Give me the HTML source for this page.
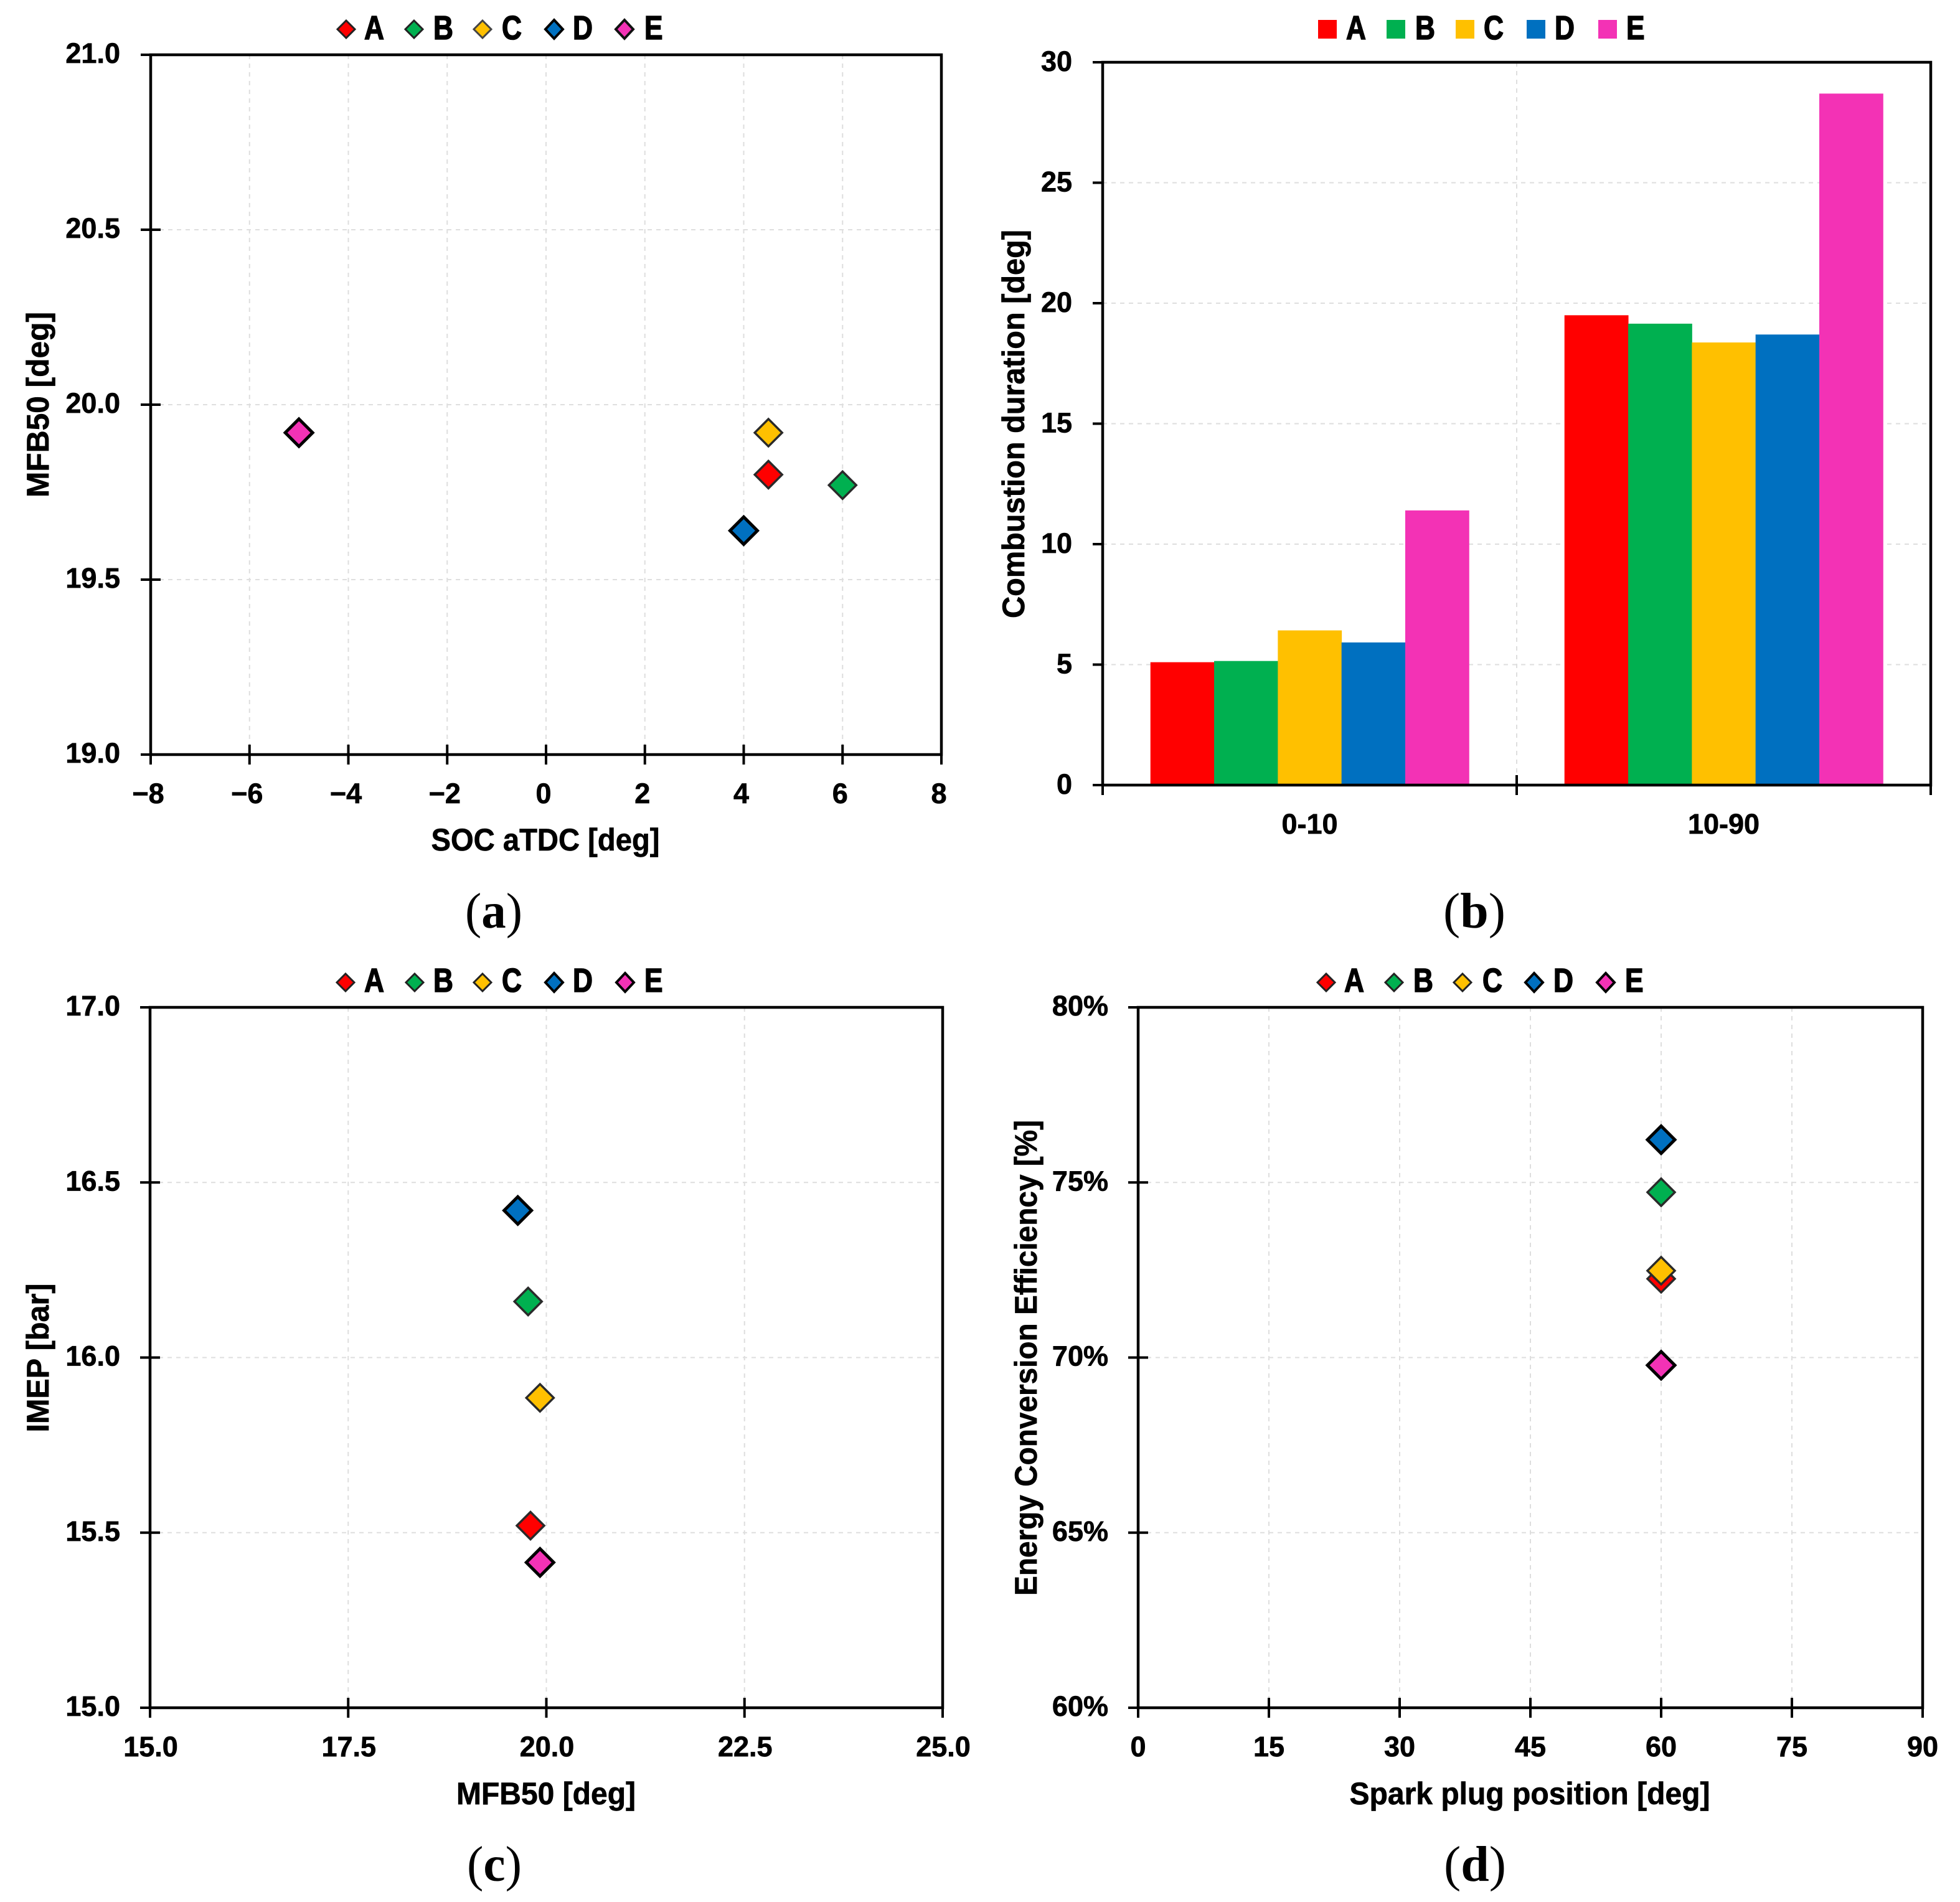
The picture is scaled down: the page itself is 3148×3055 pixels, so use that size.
<!DOCTYPE html>
<html lang="en">
<head>
<meta charset="utf-8">
<title>Combustion comparison charts</title>
<style>
html,body{margin:0;padding:0;background:#fff;width:3148px;height:3055px;overflow:hidden}
svg{display:block}
text{font-family:"Liberation Sans",sans-serif;font-weight:700;fill:#000;stroke:#000;stroke-width:.7px}
.cap{font-family:"Liberation Serif",serif;font-size:80px;text-anchor:middle;stroke-width:0}
.cap tspan{font-weight:400}
.ttl{font-size:50px;text-anchor:middle}
.leg{font-size:54px;stroke-width:1.6px}
</style>
</head>
<body>
<svg id="figure" xmlns="http://www.w3.org/2000/svg" width="3148" height="3055" viewBox="0 0 3148 3055">
<rect x="0" y="0" width="3148" height="3055" fill="#fff"/>
<g id="plots"></g>

<g>
<polygon points="556,33 570,47 556,61 542,47" fill="#ff0000" stroke="#222" stroke-width="3"/>
<text class="leg" transform="translate(585,63) scale(.82,1)">A</text>
<polygon points="665,33 679,47 665,61 651,47" fill="#00b050" stroke="#222" stroke-width="3"/>
<text class="leg" transform="translate(696,63) scale(.82,1)">B</text>
<polygon points="775,33 789,47 775,61 761,47" fill="#ffc000" stroke="#444" stroke-width="3"/>
<text class="leg" transform="translate(806,63) scale(.82,1)">C</text>
<polygon points="890,32 904,47 890,62 876,47" fill="#0070c0" stroke="#000" stroke-width="4"/>
<text class="leg" transform="translate(920,63) scale(.82,1)">D</text>
<polygon points="1003,32 1017,47 1003,62 989,47" fill="#f332b5" stroke="#111" stroke-width="4"/>
<text class="leg" transform="translate(1035,63) scale(.82,1)">E</text>
</g>

<g>
<rect x="2117" y="32" width="30" height="30" fill="#ff0000"/>
<text class="leg" transform="translate(2162,63) scale(.82,1)">A</text>
<rect x="2227" y="32" width="30" height="30" fill="#00b050"/>
<text class="leg" transform="translate(2273,63) scale(.82,1)">B</text>
<rect x="2338" y="32" width="30" height="30" fill="#ffc000"/>
<text class="leg" transform="translate(2383,63) scale(.82,1)">C</text>
<rect x="2452" y="32" width="30" height="30" fill="#0070c0"/>
<text class="leg" transform="translate(2497,63) scale(.82,1)">D</text>
<rect x="2567" y="32" width="30" height="30" fill="#f332b5"/>
<text class="leg" transform="translate(2612,63) scale(.82,1)">E</text>
</g>

<g>
<polygon points="555,1564 569,1578 555,1592 541,1578" fill="#ff0000" stroke="#222" stroke-width="3"/>
<text class="leg" transform="translate(585,1593) scale(.82,1)">A</text>
<polygon points="666,1564 680,1578 666,1592 652,1578" fill="#00b050" stroke="#222" stroke-width="3"/>
<text class="leg" transform="translate(696,1593) scale(.82,1)">B</text>
<polygon points="775,1564 789,1578 775,1592 761,1578" fill="#ffc000" stroke="#222" stroke-width="3"/>
<text class="leg" transform="translate(806,1593) scale(.82,1)">C</text>
<polygon points="890,1563 904,1578 890,1593 876,1578" fill="#0070c0" stroke="#000" stroke-width="4"/>
<text class="leg" transform="translate(920,1593) scale(.82,1)">D</text>
<polygon points="1004,1563 1018,1578 1004,1593 990,1578" fill="#f332b5" stroke="#000" stroke-width="4"/>
<text class="leg" transform="translate(1035,1593) scale(.82,1)">E</text>
</g>

<g>
<polygon points="2130,1564 2144,1578 2130,1592 2116,1578" fill="#ff0000" stroke="#222" stroke-width="3"/>
<text class="leg" transform="translate(2159,1593) scale(.82,1)">A</text>
<polygon points="2239,1564 2253,1578 2239,1592 2225,1578" fill="#00b050" stroke="#222" stroke-width="3"/>
<text class="leg" transform="translate(2270,1593) scale(.82,1)">B</text>
<polygon points="2349,1564 2363,1578 2349,1592 2335,1578" fill="#ffc000" stroke="#222" stroke-width="3"/>
<text class="leg" transform="translate(2381,1593) scale(.82,1)">C</text>
<polygon points="2464,1563 2478,1578 2464,1593 2450,1578" fill="#0070c0" stroke="#000" stroke-width="4"/>
<text class="leg" transform="translate(2495,1593) scale(.82,1)">D</text>
<polygon points="2579,1563 2593,1578 2579,1593 2565,1578" fill="#f332b5" stroke="#000" stroke-width="4"/>
<text class="leg" transform="translate(2610,1593) scale(.82,1)">E</text>
</g>

<text class="ttl" x="876" y="1366" textLength="367" lengthAdjust="spacingAndGlyphs">SOC aTDC [deg]</text>
<text class="ttl" transform="translate(78,650) rotate(-90)" textLength="298" lengthAdjust="spacingAndGlyphs">MFB50 [deg]</text>
<text class="ttl" transform="translate(1645,681) rotate(-90)" textLength="624" lengthAdjust="spacingAndGlyphs">Combustion duration [deg]</text>
<text class="ttl" x="877" y="2898" textLength="288" lengthAdjust="spacingAndGlyphs">MFB50 [deg]</text>
<text class="ttl" transform="translate(78,2181) rotate(-90)" textLength="239" lengthAdjust="spacingAndGlyphs">IMEP [bar]</text>
<text class="ttl" x="2457" y="2898" textLength="579" lengthAdjust="spacingAndGlyphs">Spark plug position [deg]</text>
<text class="ttl" transform="translate(1665,2181) rotate(-90)" textLength="764" lengthAdjust="spacingAndGlyphs">Energy Conversion Efficiency [%]</text>

<text class="cap" x="793" y="1490" textLength="92" lengthAdjust="spacingAndGlyphs"><tspan>(</tspan>a<tspan>)</tspan></text>
<text class="cap" x="2368" y="1490" textLength="100" lengthAdjust="spacingAndGlyphs"><tspan>(</tspan>b<tspan>)</tspan></text>
<text class="cap" x="794" y="3021" textLength="88" lengthAdjust="spacingAndGlyphs"><tspan>(</tspan>c<tspan>)</tspan></text>
<text class="cap" x="2369" y="3021" textLength="100" lengthAdjust="spacingAndGlyphs"><tspan>(</tspan>d<tspan>)</tspan></text>
</svg>

<script>
// ---------- chart data ----------
const seriesNames = ['A', 'B', 'C', 'D', 'E'];

const socValues = [4.5, 6, 4.5, 4, -5];
const mfb50Values = [19.8, 19.77, 19.92, 19.64, 19.92];
const imepValues = [15.52, 16.16, 15.885, 16.42, 15.415];
const sparkValues = [60, 60, 60, 60, 60];
const efficiencyValues = [72.25, 74.72, 72.48, 76.22, 69.78];

const durationCategories = ['0-10', '10-90'];
const durationA = [5.1, 19.5];
const durationB = [5.15, 19.15];
const durationC = [6.42, 18.37];
const durationD = [5.92, 18.7];
const durationE = [11.4, 28.7];

const socTicks = [-8, -6, -4, -2, 0, 2, 4, 6, 8];
const socTickLabels = ['\u22128', '\u22126', '\u22124', '\u22122', '0', '2', '4', '6', '8'];
const mfbYTicks = [19, 19.5, 20, 20.5, 21];
const mfbYTickLabels = ['19.0', '19.5', '20.0', '20.5', '21.0'];
const durationTicks = [0, 5, 10, 15, 20, 25, 30];
const durationTickLabels = ['0', '5', '10', '15', '20', '25', '30'];
const mfbXTicks = [15, 17.5, 20, 22.5, 25];
const mfbXTickLabels = ['15.0', '17.5', '20.0', '22.5', '25.0'];
const imepTicks = [15, 15.5, 16, 16.5, 17];
const imepTickLabels = ['15.0', '15.5', '16.0', '16.5', '17.0'];
const sparkTicks = [0, 15, 30, 45, 60, 75, 90];
const sparkTickLabels = ['0', '15', '30', '45', '60', '75', '90'];
const efficiencyTicks = [60, 65, 70, 75, 80];
const efficiencyTickLabels = ['60%', '65%', '70%', '75%', '80%'];

// ---------- styling ----------
const seriesColors = ['#ff0000', '#00b050', '#ffc000', '#0070c0', '#f332b5'];
const SVGNS = 'http://www.w3.org/2000/svg';
const root = document.getElementById('plots');

function mk(tag, attrs, parent) {
  const el = document.createElementNS(SVGNS, tag);
  for (const k in attrs) el.setAttribute(k, attrs[k]);
  parent.appendChild(el);
  return el;
}

function linear(d0, d1, r0, r1) {
  return function (v) { return r0 + (v - d0) * (r1 - r0) / (d1 - d0); };
}

function gridLine(parent, x1, y1, x2, y2) {
  const el = mk('line', { x1: x1, y1: y1, x2: x2, y2: y2, stroke: '#dedede', 'stroke-width': 2, 'stroke-dasharray': '7 7' }, parent);
  
  
}

function tickLine(parent, x1, y1, x2, y2) {
  const el = mk('line', { x1: x1, y1: y1, x2: x2, y2: y2, stroke: '#000', 'stroke-width': 4 }, parent);
  
  
}

function tickLabel(parent, x, y, anchor, str) {
  const el = mk('text', { x: x, y: y, 'text-anchor': anchor, 'font-size': 45 }, parent);
  el.textContent = str;
  
  
}

function frame(parent, box) {
  const el = mk('rect', { x: box.l, y: box.t, width: box.r - box.l, height: box.b - box.t, fill: 'none', stroke: '#000', 'stroke-width': 4.5 }, parent);
  
  
}

function scatterPanel(name, box, xs, ys, xTicks, xLabels, yTicks, yLabels, labelRight, labelDx) {
  const g = mk('g', {}, root);
  
  
  const sx = linear(xTicks[0], xTicks[xTicks.length - 1], box.l, box.r);
  const sy = linear(yTicks[0], yTicks[yTicks.length - 1], box.b, box.t);
  xTicks.slice(1, -1).forEach(function (t) { gridLine(g, sx(t), box.t, sx(t), box.b); });
  yTicks.slice(1, -1).forEach(function (t) { gridLine(g, box.l, sy(t), box.r, sy(t)); });
  frame(g, box);
  xTicks.forEach(function (t, i) {
    tickLine(g, sx(t), box.b - 16, sx(t), box.b + 16);
    tickLabel(g, sx(t) + labelDx, box.b + 78, 'middle', xLabels[i]);
  });
  yTicks.forEach(function (t, i) {
    tickLine(g, box.l - 16, sy(t), box.l + 16, sy(t));
    tickLabel(g, labelRight, sy(t) + 13, 'end', yLabels[i]);
  });
  const half = 22;
  seriesNames.forEach(function (s, i) {
    const cx = sx(xs[i]);
    const cy = sy(ys[i]);
    const heavy = i >= 3;
    const pts = [cx, cy - half, cx + half, cy, cx, cy + half, cx - half, cy].join(' ');
    const m = mk('polygon', { points: pts, fill: seriesColors[i], stroke: heavy ? '#000' : '#2a2a2a', 'stroke-width': heavy ? 5 : 3.5 }, g);
    
    
  });
}

function barPanel(name, box, categories, seriesValues, yTicks, yLabels, labelRight) {
  const g = mk('g', {}, root);
  
  
  const sy = linear(yTicks[0], yTicks[yTicks.length - 1], box.b, box.t);
  const catW = (box.r - box.l) / categories.length;
  const barW = catW / (seriesValues.length + 1.5);
  yTicks.slice(1, -1).forEach(function (t) { gridLine(g, box.l, sy(t), box.r, sy(t)); });
  for (let c = 1; c < categories.length; c++) gridLine(g, box.l + c * catW, box.t, box.l + c * catW, box.b);
  categories.forEach(function (cat, c) {
    seriesValues.forEach(function (vals, s) {
      const x = box.l + c * catW + 0.75 * barW + s * barW;
      const y = sy(vals[c]);
      const b = mk('rect', { x: x, y: y, width: barW + 0.5, height: box.b - y, fill: seriesColors[s] }, g);
      
      
    });
    tickLabel(g, box.l + (c + 0.5) * catW, box.b + 78, 'middle', cat);
  });
  frame(g, box);
  for (let c = 0; c <= categories.length; c++) {
    tickLine(g, box.l + c * catW, box.b - 16, box.l + c * catW, box.b + 16);
  }
  yTicks.forEach(function (t, i) {
    tickLine(g, box.l - 16, sy(t), box.l, sy(t));
    tickLabel(g, labelRight, sy(t) + 14, 'end', yLabels[i]);
  });
}

scatterPanel('panel-a-scatter', { l: 242, r: 1512, t: 88, b: 1212 }, socValues, mfb50Values,
  socTicks, socTickLabels, mfbYTicks, mfbYTickLabels, 193, -4);
barPanel('panel-b-bars', { l: 1771, r: 3101, t: 100, b: 1261 }, durationCategories,
  [durationA, durationB, durationC, durationD, durationE], durationTicks, durationTickLabels, 1722);
scatterPanel('panel-c-scatter', { l: 241, r: 1514, t: 1618, b: 2743 }, mfb50Values, imepValues,
  mfbXTicks, mfbXTickLabels, imepTicks, imepTickLabels, 193, 1);
scatterPanel('panel-d-scatter', { l: 1828, r: 3088, t: 1618, b: 2743 }, sparkValues, efficiencyValues,
  sparkTicks, sparkTickLabels, efficiencyTicks, efficiencyTickLabels, 1780, 0);
</script>
</body>
</html>
